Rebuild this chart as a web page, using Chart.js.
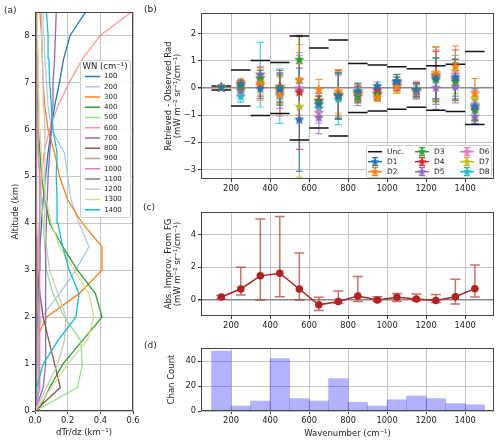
<!DOCTYPE html>
<html>
<head>
<meta charset="utf-8">
<script src="https://cdn.jsdelivr.net/npm/chart.js@4.4.1/dist/chart.umd.min.js"></script>
<style>
  body { margin: 0; background: #fff; }
  #wrap { position: relative; width: 500px; height: 444px; overflow: hidden; font-family: 'DejaVu Sans', sans-serif; }
  #wrap canvas { position: absolute; }
  .tag { position: absolute; font-size: 9px; color: #222; }
</style>
</head>
<body>
<div id="wrap">
  <canvas id="cA" width="150" height="444" style="left:0;top:0"></canvas>
  <canvas id="cB" width="340" height="200" style="left:160px;top:0"></canvas>
  <canvas id="cC" width="340" height="138" style="left:160px;top:200px"></canvas>
  <canvas id="cD" width="340" height="106" style="left:160px;top:338px"></canvas>
  <span class="tag" style="left:4px;top:5px">(a)</span>
  <span class="tag" style="left:144px;top:4px">(b)</span>
  <span class="tag" style="left:143px;top:202px">(c)</span>
  <span class="tag" style="left:144px;top:340px">(d)</span>
</div>
<script>
'use strict';

// ---------- panel (a): dTr/dz profiles ----------
const altKm = [0, 0.5, 1, 1.5, 2, 2.5, 3, 3.5, 4, 4.5, 5, 5.5, 6, 6.5, 7, 7.5, 8, 8.5];
const wnLabels = ['100', '200', '300', '400', '500', '600', '700', '800', '900', '1000', '1100', '1200', '1300', '1400'];
const wnColors = ['#1f77b4', '#aec7e8', '#ff7f0e', '#2ca02c', '#98df8a', '#ff9896', '#9467bd',
                  '#8c564b', '#c49c94', '#e377c2', '#7f7f7f', '#c7c7c7', '#dbdb8d', '#17becf'];
const dtrdz = [
  [0, 0.005, 0.01, 0.01, 0.015, 0.02, 0.025, 0.03, 0.04, 0.05, 0.065, 0.08, 0.1, 0.12, 0.15, 0.175, 0.215, 0.31],   // 100
  [0, 0, 0, 0.005, 0.04, 0.15, 0.25, 0.33, 0.27, 0.22, 0.2, 0.18, 0.1, 0.08, 0.07, 0.06, 0.055, 0.05],            // 200
  [0, 0, 0, 0.005, 0.07, 0.27, 0.41, 0.41, 0.29, 0.2, 0.15, 0.12, 0.08, 0.06, 0.05, 0.045, 0.04, 0.03],           // 300
  [0.02, 0.09, 0.17, 0.29, 0.41, 0.37, 0.26, 0.17, 0.09, 0.06, 0.04, 0.03, 0.02, 0.015, 0.01, 0.01, 0.005, 0.005], // 400
  [0, 0.26, 0.29, 0.28, 0.18, 0.11, 0.07, 0.06, 0.05, 0.04, 0.03, 0.02, 0.015, 0.01, 0.01, 0.01, 0.01, 0.01],      // 500
  [0, 0.005, 0.005, 0.01, 0.01, 0.015, 0.02, 0.02, 0.025, 0.03, 0.04, 0.055, 0.09, 0.14, 0.21, 0.29, 0.40, 0.59],  // 600
  [0, 0.05, 0.065, 0.065, 0.065, 0.065, 0.065, 0.065, 0.07, 0.075, 0.08, 0.09, 0.1, 0.105, 0.11, 0.12, 0.125, 0.13], // 700
  [0, 0.155, 0.12, 0.085, 0.05, 0.03, 0.015, 0.01, 0.005, 0.005, 0.005, 0.005, 0.005, 0.005, 0.005, 0.005, 0.005, 0.005], // 800
  [0, 0.02, 0.02, 0.02, 0.02, 0.015, 0.015, 0.015, 0.01, 0.01, 0.01, 0.01, 0.01, 0.01, 0.005, 0.005, 0.005, 0.005], // 900
  [0, 0.03, 0.03, 0.03, 0.03, 0.03, 0.03, 0.03, 0.03, 0.025, 0.025, 0.02, 0.02, 0.02, 0.015, 0.015, 0.01, 0.01],   // 1000
  [0, 0.01, 0.01, 0.01, 0.01, 0.008, 0.008, 0.006, 0.005, 0.005, 0.005, 0.005, 0.005, 0.005, 0.005, 0.005, 0.005, 0.005], // 1100
  [0, 0.07, 0.14, 0.18, 0.19, 0.14, 0.09, 0.07, 0.06, 0.06, 0.06, 0.06, 0.06, 0.055, 0.05, 0.045, 0.04, 0.04],     // 1200
  [0, 0.1, 0.2, 0.32, 0.36, 0.33, 0.24, 0.15, 0.1, 0.07, 0.05, 0.04, 0.03, 0.025, 0.02, 0.02, 0.015, 0.015],       // 1300
  [0, 0.01, 0.05, 0.14, 0.25, 0.27, 0.21, 0.17, 0.14, 0.135, 0.13, 0.135, 0.11, 0.1, 0.09, 0.085, 0.08, 0.07]      // 1400
];
const dtrTicks = [0, 0.2, 0.4, 0.6];
const altTicks = [0, 1, 2, 3, 4, 5, 6, 7, 8];

// ---------- panel (b): retrieved - observed ----------
const wnCenters = [150, 250, 350, 450, 550, 650, 750, 850, 950, 1050, 1150, 1250, 1350, 1450];
const uncEdges = [100, 200, 300, 400, 500, 600, 700, 800, 900, 1000, 1100, 1200, 1300, 1400, 1500];
const unc = [0.07, 0.66, 1.01, 0.94, 1.91, 1.47, 1.77, 0.9, 0.85, 0.78, 0.71, 0.82, 0.87, 1.34];
const dNames = ['D1', 'D2', 'D3', 'D4', 'D5', 'D6', 'D7', 'D8'];
const dColors = ['#1f77b4', '#ff7f0e', '#2ca02c', '#d62728', '#9467bd', '#e377c2', '#bcbd22', '#17becf'];
const dMean = [
  [0.02, 0.15, -0.03, -0.04, -1.17, -0.6, -0.28, -0.12, 0.07, 0.24, -0.07, 0.36, 0.38, -0.68],
  [0.02, 0.2, 0.15, -0.25, 0.3, -0.06, -0.12, -0.15, -0.34, 0.05, -0.1, 0.56, 0.8, -0.2],
  [0.02, 0.05, 0.35, 0.0, 1.04, -0.5, -0.3, -0.3, -0.25, 0.25, -0.05, 0.3, 0.23, -0.82],
  [0.02, 0.12, 0.1, 0.05, -0.16, -0.45, -0.25, -0.2, -0.08, 0.15, -0.1, 0.45, 0.3, -0.75],
  [0.02, -0.1, 0.5, -0.15, -0.1, -1.1, -0.3, -0.3, -0.2, 0.1, -0.15, 0.01, 0.05, -1.05],
  [0.02, -0.05, 0.4, -0.25, 0.0, -0.9, -0.3, -0.2, -0.15, 0.1, -0.05, 0.4, 0.5, -0.6],
  [0.02, 0.0, 0.22, -0.1, -0.68, -0.6, -0.2, -0.25, -0.25, 0.05, -0.1, 0.5, 0.6, -0.4],
  [0.02, -0.32, 0.49, -0.3, 0.3, -0.75, -0.4, -0.15, -0.2, 0.2, -0.1, 0.45, 0.4, -0.65]
];
const dErr = [
  [0.08, 0.15, 0.35, 0.6, 1.9, 0.3, 0.85, 0.3, 0.15, 0.25, 0.25, 0.75, 0.68, 0.65],
  [0.08, 0.15, 0.6, 0.7, 1.3, 0.38, 0.8, 0.3, 0.15, 0.22, 0.25, 0.96, 0.75, 0.55],
  [0.08, 0.2, 0.3, 0.5, 0.85, 0.2, 0.85, 0.25, 0.2, 0.25, 0.25, 0.8, 0.7, 0.4],
  [0.08, 0.15, 0.4, 0.6, 2.1, 0.25, 0.9, 0.3, 0.2, 0.25, 0.25, 0.9, 0.75, 0.45],
  [0.08, 0.2, 0.3, 0.6, 1.0, 0.58, 0.8, 0.35, 0.2, 0.2, 0.25, 0.8, 0.6, 0.25],
  [0.08, 0.2, 0.35, 0.8, 1.2, 0.4, 0.75, 0.25, 0.2, 0.2, 0.3, 1.0, 0.9, 0.5],
  [0.08, 0.2, 0.45, 0.5, 2.6, 0.3, 0.8, 0.3, 0.2, 0.25, 0.3, 1.0, 0.8, 0.75],
  [0.08, 0.2, 1.19, 1.0, 1.0, 0.3, 0.95, 0.3, 0.2, 0.2, 0.25, 1.05, 0.8, 0.5]
];
const resTicks = [-3, -2, -1, 0, 1, 2];

// ---------- panel (c): improvement from first guess ----------
const improv = [0.18, 0.67, 1.47, 1.63, 0.67, -0.3, -0.1, 0.24, 0.0, 0.16, 0.06, -0.04, 0.2, 0.69];
const improvLo = [0.04, 0.3, 0.0, 0.2, 0.0, -0.65, -0.2, -0.1, -0.1, -0.1, -0.05, -0.15, -0.25, 0.18];
const improvHi = [0.27, 2.0, 4.94, 5.1, 2.86, 0.16, 0.55, 1.43, 0.2, 0.4, 0.37, 0.33, 1.26, 2.14];
const improvTicks = [0, 2, 4];

// ---------- panel (d): channel count ----------
const chanCount = [48, 4, 8, 42, 10, 8, 26, 7, 4, 9, 12, 10, 6, 5];
const countTicks = [0, 20, 40];
const wnTicks = [200, 400, 600, 800, 1000, 1200, 1400];

// ---------- shared styling ----------
Chart.defaults.font.family = "'DejaVu Sans', sans-serif";
Chart.defaults.font.size = 8.3;
Chart.defaults.color = '#222';

const gridC = '#c4c4c4';
const tickC = '#333';
const zeroLine = ctx => (ctx.tick && ctx.tick.value === 0 ? '#8a8a8a' : gridC);
const zeroWidth = ctx => (ctx.tick && ctx.tick.value === 0 ? 1.5 : 1);

function fixTicks(values) {
  return scale => { scale.ticks = values.map(v => ({ value: v })); };
}
function fitY(w) {
  return s => { s.width = w; s.paddingTop = 0; s.paddingBottom = 0; };
}
function fitX(h) {
  return s => { s.height = h; s.paddingLeft = 0; s.paddingRight = 0; };
}
function fmtNum(v) {
  return v < 0 ? '\u2212' + Math.abs(v) : String(v);
}

function starImg(color, r) {
  const c = document.createElement('canvas');
  const s = Math.ceil(2 * r + 2);
  c.width = s; c.height = s;
  const g = c.getContext('2d');
  g.fillStyle = color;
  g.beginPath();
  for (let k = 0; k < 10; k++) {
    const rad = k % 2 === 0 ? r : r * 0.42;
    const a = -Math.PI / 2 + k * Math.PI / 5;
    g.lineTo(s / 2 + rad * Math.cos(a), s / 2 + rad * Math.sin(a));
  }
  g.closePath();
  g.fill();
  return c;
}

// frame around the plot area (matplotlib spines)
const frame = {
  id: 'frame',
  afterDraw(chart) {
    const a = chart.chartArea, ctx = chart.ctx;
    ctx.save();
    ctx.strokeStyle = '#444';
    ctx.lineWidth = 1;
    ctx.strokeRect(Math.round(a.left) + 0.5, Math.round(a.top) + 0.5, Math.round(a.width) - 1, Math.round(a.height) - 1);
    ctx.restore();
  }
};

// vertical error bars with caps, drawn through the chart scales
const errorBars = {
  id: 'errorBars',
  beforeDatasetsDraw(chart, args, opts) {
    const ctx = chart.ctx, xs = chart.scales.x, ys = chart.scales.y;
    const cap = opts.cap || 4;
    ctx.save();
    ctx.beginPath();
    ctx.rect(chart.chartArea.left, chart.chartArea.top, chart.chartArea.width, chart.chartArea.height);
    ctx.clip();
    ctx.globalAlpha = opts.alpha || 1;
    ctx.lineWidth = opts.width || 1.2;
    for (let d = chart.data.datasets.length - 1; d >= 0; d--) {
      const ds = chart.data.datasets[d];
      if (!ds.errLo) continue;
      ctx.strokeStyle = ds.borderColor;
      ds.data.forEach((p, i) => {
        const x = xs.getPixelForValue(p.x);
        const y1 = ys.getPixelForValue(ds.errLo[i]);
        const y2 = ys.getPixelForValue(ds.errHi[i]);
        ctx.beginPath();
        ctx.moveTo(x, y1); ctx.lineTo(x, y2);
        ctx.moveTo(x - cap, y1); ctx.lineTo(x + cap, y1);
        ctx.moveTo(x - cap, y2); ctx.lineTo(x + cap, y2);
        ctx.stroke();
      });
    }
    ctx.restore();
  }
};

// boxed legend at a fixed spot
const boxLegend = {
  id: 'boxLegend',
  afterDraw(chart, args, o) {
    if (!o.box) return;
    const ctx = chart.ctx, b = o.box;
    ctx.save();
    ctx.fillStyle = 'rgba(255,255,255,0.85)';
    ctx.strokeStyle = '#cfcfcf';
    ctx.lineWidth = 1;
    ctx.beginPath();
    ctx.roundRect(b.x + 0.5, b.y + 0.5, b.w, b.h, 2);
    ctx.fill();
    ctx.stroke();
    ctx.textBaseline = 'middle';
    ctx.fillStyle = '#222';
    if (o.title) {
      ctx.font = o.titleFont;
      ctx.textAlign = 'center';
      ctx.fillText(o.title, b.x + b.w / 2, o.titleY);
    }
    ctx.textAlign = 'left';
    ctx.font = o.font;
    o.items.forEach(it => {
      const x0 = it.x, x1 = it.x + o.handle, yc = it.y, xm = (x0 + x1) / 2;
      ctx.strokeStyle = it.color;
      ctx.lineWidth = 1.5;
      ctx.beginPath();
      ctx.moveTo(x0, yc); ctx.lineTo(x1, yc);
      ctx.stroke();
      if (it.star) {
        ctx.lineWidth = 1.2;
        ctx.beginPath();
        ctx.moveTo(xm, yc - 4); ctx.lineTo(xm, yc + 4);
        ctx.moveTo(xm - 3, yc - 4); ctx.lineTo(xm + 3, yc - 4);
        ctx.moveTo(xm - 3, yc + 4); ctx.lineTo(xm + 3, yc + 4);
        ctx.stroke();
        ctx.drawImage(it.star, xm - it.star.width / 2, yc - it.star.height / 2);
      }
      ctx.fillStyle = '#222';
      ctx.fillText(it.text, x1 + o.gap, yc);
    });
    ctx.restore();
  }
};

function baseScales(xOpt, yOpt) {
  const common = {
    type: 'linear',
    border: { display: false },
    grid: { color: gridC, tickColor: tickC, tickLength: 3, lineWidth: 1 },
    ticks: { autoSkip: false, maxRotation: 0, padding: 2, color: '#222', callback: fmtNum }
  };
  return {
    x: Object.assign({}, common, xOpt, { grid: Object.assign({}, common.grid, xOpt.grid), ticks: Object.assign({}, common.ticks, xOpt.ticks) }),
    y: Object.assign({}, common, yOpt, { grid: Object.assign({}, common.grid, yOpt.grid), ticks: Object.assign({}, common.ticks, yOpt.ticks) })
  };
}

const noPlug = { legend: { display: false }, tooltip: { enabled: false } };

// ---------- chart (a) ----------
const legendA = wnLabels.map((lab, i) => ({ text: lab, color: wnColors[i], x: 85, y: 76.5 + i * 10.25 }));
new Chart(document.getElementById('cA'), {
  type: 'scatter',
  data: {
    datasets: wnLabels.map((lab, i) => ({
      label: lab,
      data: altKm.map((a, k) => ({ x: dtrdz[i][k], y: a })),
      showLine: true,
      borderColor: wnColors[i],
      backgroundColor: wnColors[i],
      borderWidth: 1.3,
      pointRadius: 0,
      order: wnLabels.length - i
    }))
  },
  options: {
    responsive: false, animation: false, devicePixelRatio: 1,
    layout: { padding: { top: 12, right: 17, left: 0, bottom: 0 } },
    plugins: Object.assign({}, noPlug, {
      boxLegend: {
        box: { x: 80, y: 60, w: 50, h: 157 },
        title: 'WN (cm\u207B\u00B9)', titleY: 67, titleFont: "8.5px 'DejaVu Sans'",
        font: "7px 'DejaVu Sans'", handle: 15, gap: 4, items: legendA
      }
    }),
    scales: baseScales(
      { min: 0, max: 0.6, afterBuildTicks: fixTicks(dtrTicks), afterFit: fitX(33),
        ticks: { padding: 1.5, callback: v => v.toFixed(1) },
        title: { display: true, text: 'dTr/dz (km\u207B\u00B9)', font: { size: 8.5 }, padding: { top: 0, bottom: 6 } } },
      { min: 0, max: 8.5, afterBuildTicks: fixTicks(altTicks), afterFit: fitY(35),
        ticks: { padding: 2.5 },
        title: { display: true, text: 'Altitude (km)', font: { size: 8.5 }, padding: { top: 11, bottom: 0 } } }
    )
  },
  plugins: [frame, boxLegend]
});

// ---------- chart (b) ----------
const uncData = [];
[1, -1].forEach(sgn => {
  unc.forEach((u, i) => {
    uncData.push({ x: uncEdges[i], y: sgn * u }, { x: uncEdges[i + 1], y: sgn * u }, { x: uncEdges[i + 1], y: null });
  });
});
const stars = dColors.map(c => starImg(c, 5.5));
const legStars = dColors.map(c => starImg(c, 4.5));
const legCols = [208, 255, 300];
const legRows = [151.7, 161.7, 171.7];
const legendB = [{ text: 'Unc.', color: '#111', x: legCols[0], y: legRows[0] }];
dNames.forEach((n, i) => {
  const slot = i + 1;
  legendB.push({ text: n, color: dColors[i], star: legStars[i], x: legCols[Math.floor(slot / 3)], y: legRows[slot % 3] });
});

new Chart(document.getElementById('cB'), {
  type: 'scatter',
  data: {
    datasets: [{
      label: 'Unc.', data: uncData, showLine: true, spanGaps: false,
      borderColor: '#111', borderWidth: 1.5, pointRadius: 0, order: 1
    }].concat(dNames.map((n, i) => ({
      label: n,
      data: wnCenters.map((x, k) => ({ x: x, y: dMean[i][k] })),
      errLo: dMean[i].map((v, k) => v - dErr[i][k]),
      errHi: dMean[i].map((v, k) => v + dErr[i][k]),
      borderColor: dColors[i], backgroundColor: dColors[i],
      pointStyle: stars[i], pointRadius: 5, showLine: false, order: 0
    })))
  },
  options: {
    responsive: false, animation: false, devicePixelRatio: 1,
    layout: { padding: { top: 13, right: 6, left: 0, bottom: 0 } },
    plugins: Object.assign({}, noPlug, {
      errorBars: { cap: 3.5, alpha: 0.75, width: 1.2 },
      boxLegend: {
        box: { x: 206, y: 145, w: 125, h: 32 },
        font: "7.5px 'DejaVu Sans'", handle: 14, gap: 5, items: legendB
      }
    }),
    scales: baseScales(
      { min: 46, max: 1548, afterBuildTicks: fixTicks(wnTicks), afterFit: fitX(21) },
      { min: -3.35, max: 2.76, afterBuildTicks: fixTicks(resTicks), afterFit: fitY(41),
        grid: { color: zeroLine, lineWidth: zeroWidth },
        ticks: { padding: 2 },
        title: { display: true, text: ['Retrieved - Observed Rad', '(mW m\u207B\u00B2 sr\u207B\u00B9/cm\u207B\u00B9)'],
                 font: { size: 8.5, lineHeight: 1.1 }, padding: { top: 4, bottom: 0 } } }
    )
  },
  plugins: [errorBars, frame, boxLegend]
});

// ---------- chart (c) ----------
new Chart(document.getElementById('cC'), {
  type: 'scatter',
  data: {
    datasets: [{
      label: 'improvement',
      data: wnCenters.map((x, k) => ({ x: x, y: improv[k] })),
      errLo: improvLo, errHi: improvHi,
      showLine: true, borderColor: '#b22222', backgroundColor: '#b22222',
      borderWidth: 1.5, pointRadius: 3, pointStyle: 'circle'
    }]
  },
  options: {
    responsive: false, animation: false, devicePixelRatio: 1,
    layout: { padding: { top: 12, right: 6, left: 0, bottom: 0 } },
    plugins: Object.assign({}, noPlug, { errorBars: { cap: 5, alpha: 0.65, width: 1.5 } }),
    scales: baseScales(
      { min: 46, max: 1548, afterBuildTicks: fixTicks(wnTicks), afterFit: fitX(22) },
      { min: -0.98, max: 5.37, afterBuildTicks: fixTicks(improvTicks), afterFit: fitY(41),
        grid: { color: zeroLine, lineWidth: zeroWidth },
        ticks: { padding: 2 },
        title: { display: true, text: ['Abs. Improv. From FG', '(mW m\u207B\u00B2 sr\u207B\u00B9/cm\u207B\u00B9)'],
                 font: { size: 8.5, lineHeight: 1.1 }, padding: { top: 4, bottom: 0 } } }
    )
  },
  plugins: [errorBars, frame]
});

// ---------- chart (d) ----------
new Chart(document.getElementById('cD'), {
  type: 'bar',
  data: {
    datasets: [{
      label: 'Chan Count',
      data: wnCenters.map((x, k) => ({ x: x, y: chanCount[k] })),
      backgroundColor: 'rgba(0,0,255,0.3)',
      borderWidth: 0,
      barPercentage: 1, categoryPercentage: 1
    }]
  },
  options: {
    responsive: false, animation: false, devicePixelRatio: 1,
    layout: { padding: { top: 10, right: 6, left: 0, bottom: 0 } },
    plugins: noPlug,
    scales: baseScales(
      { min: 46, max: 1548, offset: false, afterBuildTicks: fixTicks(wnTicks), afterFit: fitX(33),
        grid: { offset: false },
        title: { display: true, text: 'Wavenumber (cm\u207B\u00B9)', font: { size: 8.5 }, padding: { top: 0, bottom: 5 } } },
      { min: 0, max: 50.5, afterBuildTicks: fixTicks(countTicks), afterFit: fitY(41),
        ticks: { padding: 2 },
        title: { display: true, text: 'Chan Count', font: { size: 8.5 }, padding: { top: 7, bottom: 0 } } }
    )
  },
  plugins: [frame]
});
</script>
</body>
</html>
